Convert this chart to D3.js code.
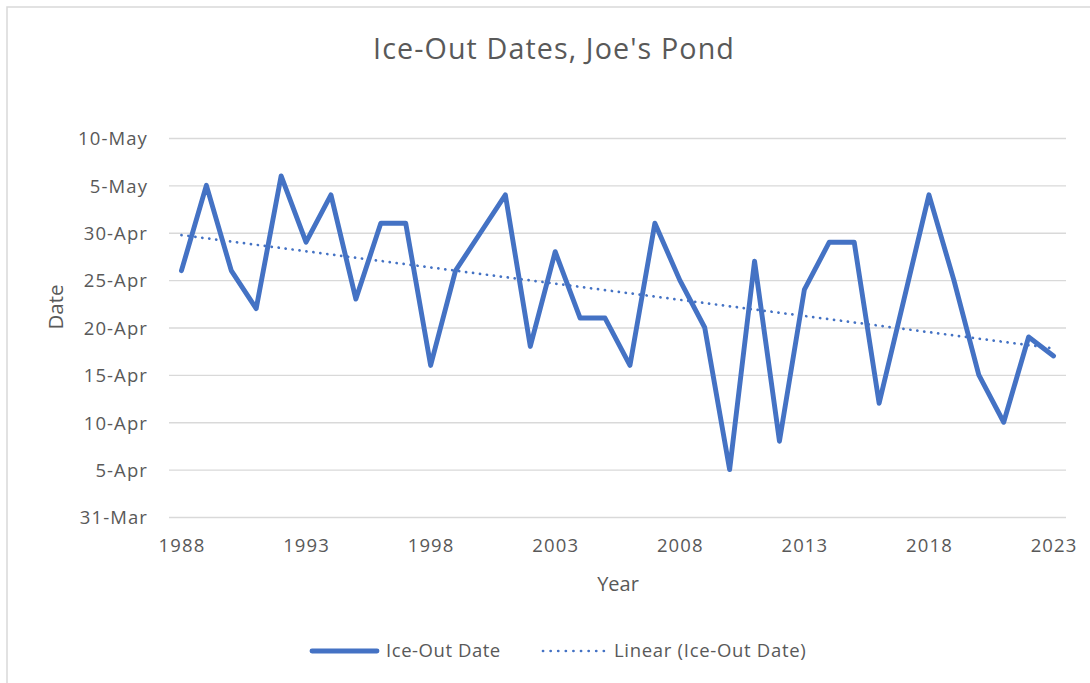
<!DOCTYPE html>
<html>
<head>
<meta charset="utf-8">
<script src="https://cdn.jsdelivr.net/npm/d3@7"></script>
<style>
  html, body { margin: 0; padding: 0; background: #fff; }
  svg { display: block; font-family: "Open Sans", Lato, sans-serif; }
</style>
</head>
<body>
<div id="chart"></div>
<script>
// Ice-Out Dates, Joe's Pond

const years = [
  "1988", "1989", "1990", "1991", "1992", "1993", "1994", "1995", "1996", "1997",
  "1998", "1999", "2000", "2001", "2002", "2003", "2004", "2005", "2006", "2007",
  "2008", "2009", "2010", "2011", "2012", "2013", "2014", "2015", "2016", "2017",
  "2018", "2019", "2020", "2021", "2022", "2023"
];
const iceOutDates = [
  "26-Apr", "5-May", "26-Apr", "22-Apr", "6-May", "29-Apr", "4-May", "23-Apr", "1-May", "1-May",
  "16-Apr", "26-Apr", "30-Apr", "4-May", "18-Apr", "28-Apr", "21-Apr", "21-Apr", "16-Apr", "1-May",
  "25-Apr", "20-Apr", "5-Apr", "27-Apr", "8-Apr", "24-Apr", "29-Apr", "29-Apr", "12-Apr", "23-Apr",
  "4-May", "25-Apr", "15-Apr", "10-Apr", "19-Apr", "17-Apr"
];
const yTickLabels = ["31-Mar", "5-Apr", "10-Apr", "15-Apr", "20-Apr", "25-Apr", "30-Apr", "5-May", "10-May"];
const xTickLabels = ["1988", "1993", "1998", "2003", "2008", "2013", "2018", "2023"];

const W = 1090, H = 683;
const plot = { left: 169, right: 1066, top: 138, bottom: 517 };
const textColor = "#595959";
const lineColor = "#4472C4";
const gridColor = "#d9d9d9";

const parseDay = d3.timeParse("%d-%b");
const data = years.map((y, i) => ({ year: y, date: parseDay(iceOutDates[i]) }));

const svg = d3.select("#chart").append("svg")
    .attr("width", W).attr("height", H);

// chart frame (only left/top edges are inside the picture)
svg.append("rect")
    .attr("x", 7).attr("y", 7).attr("width", W + 20).attr("height", H + 20)
    .attr("fill", "#fff").attr("stroke", gridColor).attr("stroke-width", 1.5);

// --- SCALES ---
const x = d3.scaleBand().domain(years).range([plot.left, plot.right]);
const xc = d => x(d) + x.bandwidth() / 2;
const yTicks = yTickLabels.map(parseDay);
const y = d3.scaleTime()
    .domain([yTicks[0], yTicks[yTicks.length - 1]])
    .range([plot.bottom, plot.top]);

// --- GRIDLINES + Y AXIS ---
const yAxis = svg.append("g")
    .attr("transform", `translate(${plot.left},0)`)
    .call(d3.axisLeft(y).tickValues(yTicks).tickFormat(d3.timeFormat("%-d-%b"))
        .tickSize(-(plot.right - plot.left)).tickPadding(21));
yAxis.attr("font-family", null).attr("font-size", null);
yAxis.select(".domain").remove();
yAxis.selectAll(".tick line").attr("stroke", gridColor).attr("stroke-width", 1.4);
yAxis.selectAll(".tick text")
    .attr("fill", textColor).attr("font-size", 18.5).attr("letter-spacing", 1.1)
    .attr("dy", "0.37em");

// --- X AXIS (labels only) ---
const xAxis = svg.append("g")
    .attr("transform", `translate(0,${plot.bottom})`)
    .call(d3.axisBottom(x).tickValues(xTickLabels).tickSize(0));
xAxis.attr("font-family", null).attr("font-size", null);
xAxis.select(".domain").remove();
xAxis.selectAll(".tick text")
    .attr("fill", textColor).attr("font-size", 18.5).attr("letter-spacing", 1.1)
    .attr("y", 35).attr("dy", null).attr("dx", 0.5);

// --- TREND (least squares over category index, as Excel does) ---
const n = data.length;
const xs = d3.range(1, n + 1);
const ys = data.map(d => +d.date);
const mx = d3.mean(xs), my = d3.mean(ys);
const slope = d3.sum(xs, (v, i) => (v - mx) * (ys[i] - my)) / d3.sum(xs, v => (v - mx) ** 2);
const icept = my - slope * mx;
const trend = [0, n - 1].map(i => ({ year: years[i], date: new Date(icept + slope * (i + 1)) }));

const line = d3.line().x(d => xc(d.year)).y(d => y(d.date));

svg.append("path").datum(trend)
    .attr("d", line).attr("fill", "none")
    .attr("stroke", lineColor).attr("stroke-width", 2.7)
    .attr("stroke-linecap", "round").attr("stroke-dasharray", "0.1 6.9");

svg.append("path").datum(data)
    .attr("d", line).attr("fill", "none")
    .attr("stroke", lineColor).attr("stroke-width", 4.9)
    .attr("stroke-linejoin", "round").attr("stroke-linecap", "round");

// --- TITLES ---
svg.append("text").text("Ice-Out Dates, Joe's Pond")
    .attr("x", 554).attr("y", 59).attr("text-anchor", "middle")
    .attr("fill", textColor).attr("font-size", 28.7).attr("letter-spacing", 1.1);

svg.append("text").text("Year")
    .attr("x", 618).attr("y", 591).attr("text-anchor", "middle")
    .attr("fill", textColor).attr("font-size", 20);

svg.append("text").text("Date")
    .attr("transform", "translate(63,307) rotate(-90)").attr("text-anchor", "middle")
    .attr("fill", textColor).attr("font-size", 20.5);

// --- LEGEND ---
const legend = svg.append("g").attr("transform", "translate(0,651)");
legend.append("line")
    .attr("x1", 312).attr("x2", 377).attr("y1", 0).attr("y2", 0)
    .attr("stroke", lineColor).attr("stroke-width", 4.9).attr("stroke-linecap", "round");
legend.append("text").text("Ice-Out Date")
    .attr("x", 386).attr("y", 6).attr("fill", textColor)
    .attr("font-size", 18.5).attr("letter-spacing", 0.55);
legend.append("line")
    .attr("x1", 543).attr("x2", 604).attr("y1", 0).attr("y2", 0)
    .attr("stroke", lineColor).attr("stroke-width", 2.7)
    .attr("stroke-linecap", "round").attr("stroke-dasharray", "0.1 7.5");
legend.append("text").text("Linear (Ice-Out Date)")
    .attr("x", 614).attr("y", 6).attr("fill", textColor)
    .attr("font-size", 18.5).attr("letter-spacing", 0.7);
</script>
</body>
</html>
